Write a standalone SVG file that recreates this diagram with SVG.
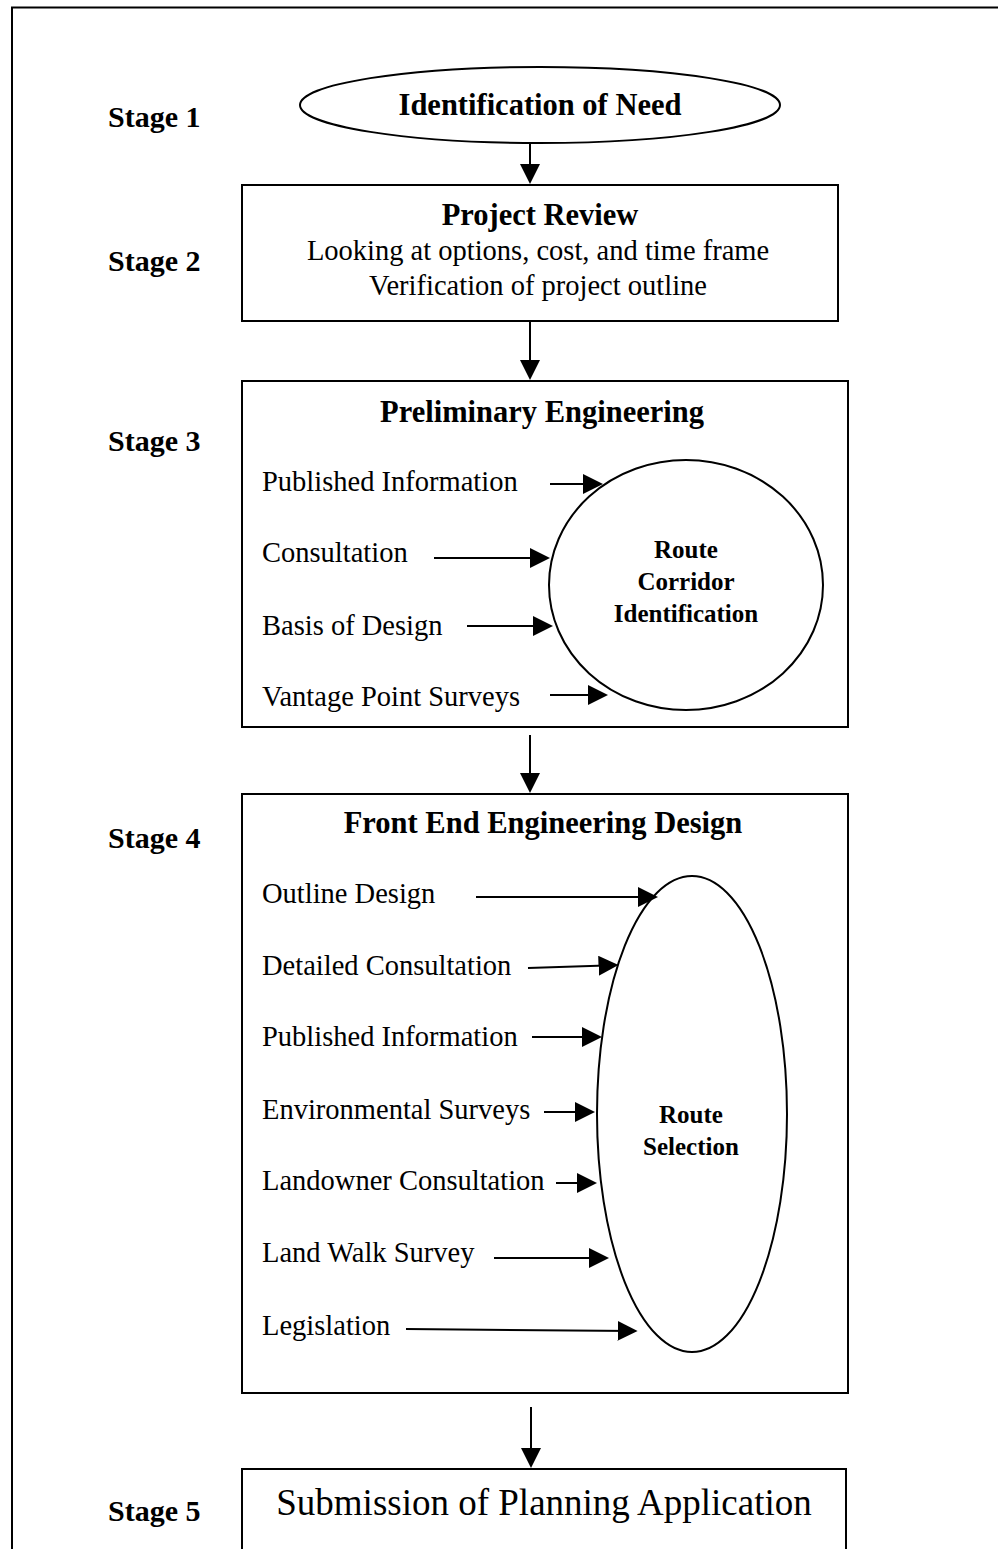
<svg xmlns="http://www.w3.org/2000/svg" width="998" height="1549" viewBox="0 0 998 1549">
<style>
  .ln { fill: none; stroke: #000; stroke-width: 2; }
  .shape { fill: #fff; stroke: #000; stroke-width: 2; }
  .arr { fill: none; stroke: #000; stroke-width: 2; marker-end: url(#ah); }
  text { font-family: "Liberation Serif", "Times New Roman", serif; fill: #000; }
  .stage { font-size: 30px; font-weight: bold; }
  .head { font-size: 30.5px; font-weight: bold; text-anchor: middle; }
  .reg { font-size: 28.5px; }
  .regc { font-size: 28.5px; text-anchor: middle; }
  .inner { font-size: 25px; font-weight: bold; text-anchor: middle; }
  .big { font-size: 37px; text-anchor: middle; }
</style>
<defs>
  <marker id="ah" viewBox="0 0 20 20" markerWidth="20" markerHeight="20" refX="15" refY="10" markerUnits="userSpaceOnUse" orient="auto">
    <path d="M0,0 L20,10 L0,20 Z" fill="#000"/>
  </marker>
</defs>
<rect width="998" height="1549" fill="#fff"/>
<path class="ln" d="M12,1549 V7.5 H998"/>

<g id="stage-labels">
  <text class="stage" x="108" y="127">Stage 1</text>
  <text class="stage" x="108" y="271">Stage 2</text>
  <text class="stage" x="108" y="451">Stage 3</text>
  <text class="stage" x="108" y="848">Stage 4</text>
  <text class="stage" x="108" y="1521">Stage 5</text>
</g>

<g id="node-identification">
  <ellipse class="shape" cx="540" cy="105" rx="240" ry="38"/>
  <text class="head" x="540" y="115">Identification of Need</text>
</g>

<g id="node-project-review">
  <rect class="shape" x="242" y="185" width="596" height="136"/>
  <text class="head" x="540" y="225">Project Review</text>
  <text class="regc" x="538" y="260">Looking at options, cost, and time frame</text>
  <text class="regc" x="538" y="295">Verification of project outline</text>
</g>

<g id="node-preliminary-engineering">
  <rect class="shape" x="242" y="381" width="606" height="346"/>
  <text class="head" x="542" y="422">Preliminary Engineering</text>
  <text class="reg" x="262" y="491">Published Information</text>
  <text class="reg" x="262" y="562">Consultation</text>
  <text class="reg" x="262" y="635">Basis of Design</text>
  <text class="reg" x="262" y="706">Vantage Point Surveys</text>
</g>

<g id="node-route-corridor">
  <ellipse class="shape" cx="686" cy="585" rx="137" ry="125"/>
  <text class="inner" x="686" y="558">Route</text>
  <text class="inner" x="686" y="590">Corridor</text>
  <text class="inner" x="686" y="622">Identification</text>
</g>

<g id="node-feed">
  <rect class="shape" x="242" y="794" width="606" height="599"/>
  <text class="head" x="543" y="833">Front End Engineering Design</text>
  <text class="reg" x="262" y="903">Outline Design</text>
  <text class="reg" x="262" y="975">Detailed Consultation</text>
  <text class="reg" x="262" y="1046">Published Information</text>
  <text class="reg" x="262" y="1119">Environmental Surveys</text>
  <text class="reg" x="262" y="1190">Landowner Consultation</text>
  <text class="reg" x="262" y="1262">Land Walk Survey</text>
  <text class="reg" x="262" y="1335">Legislation</text>
</g>

<g id="node-route-selection">
  <ellipse class="shape" cx="692" cy="1114" rx="95" ry="238"/>
  <text class="inner" x="691" y="1123">Route</text>
  <text class="inner" x="691" y="1155">Selection</text>
</g>

<g id="node-submission">
  <rect class="shape" x="242" y="1469" width="604" height="100"/>
  <text class="big" x="544" y="1515">Submission of Planning Application</text>
</g>

<g id="connectors">
  <path class="arr" d="M530,143 V179"/>
  <path class="arr" d="M530,321 V375"/>
  <path class="arr" d="M530,735 V788"/>
  <path class="arr" d="M531,1407 V1463"/>

  <path class="arr" d="M550,484 H598"/>
  <path class="arr" d="M434,558 H545"/>
  <path class="arr" d="M467,626 H548"/>
  <path class="arr" d="M550,695 H603"/>

  <path class="arr" d="M476,897 H653"/>
  <path class="arr" d="M528,968 L613.5,965.2"/>
  <path class="arr" d="M532,1037 H597"/>
  <path class="arr" d="M544,1112 H590"/>
  <path class="arr" d="M556,1183 H592"/>
  <path class="arr" d="M494,1258 H604"/>
  <path class="arr" d="M406,1329 L632.6,1331"/>
</g>
</svg>
